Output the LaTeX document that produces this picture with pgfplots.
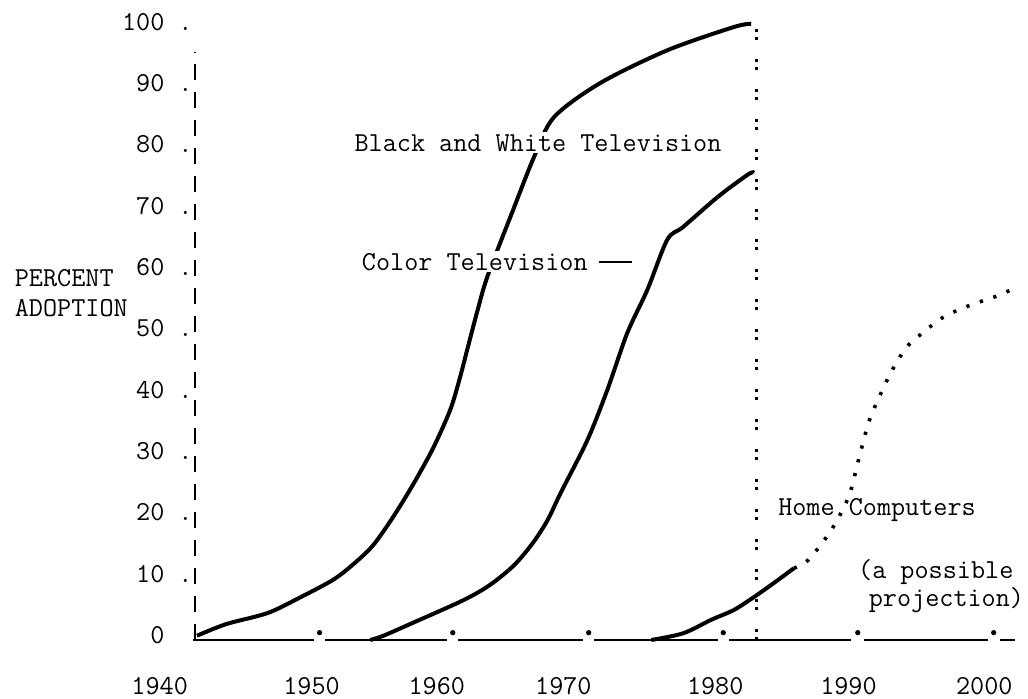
\documentclass[border=0pt]{standalone}
\usepackage{fontspec}
\usepackage{pgfplots}
\pgfplotsset{compat=1.18}
\tikzset{every node/.append style={font=\ttfamily\fontsize{13.7}{16}\selectfont}}

\begin{document}
\begin{tikzpicture}
\useasboundingbox (-96.5pt,-29pt) rectangle (417.5pt,320pt);
\begin{axis}[
    at={(0,0)}, anchor=south west,
    scale only axis, width=411pt, height=306.5pt,
    xmin=1940, xmax=2001.7, ymin=0, ymax=100,
    axis x line=bottom, axis y line=left,
    axis line style={draw=none}, major tick length=0pt,
    clip=false, unbounded coords=jump,
    xtick={1948.9,1958.3,1967.8,1979.2,1989.2,1999.4},
    xticklabels={1950,1960,1970,1980,1990,2000},
    xticklabel style={anchor=north, inner sep=0pt, yshift=-18.5pt},
    ytick={0,10,...,100},
    yticklabels={0\hphantom{00},10 .,20 .,30 .,40 .,50 .,60 .,70 .,80 .,90 .,100 .},
    yticklabel style={anchor=east, inner sep=0pt, yshift=2.5pt},
  ]
  % baseline with small breaks at the decade dots
  \addplot[black, line width=1pt] coordinates {
    (1940,0)(1949.1,0)(1949.5,nan)(1949.9,0)(1959.1,0)(1959.5,nan)(1959.9,0)
    (1969.3,0)(1969.7,nan)(1970.1,0)(1979.4,0)(1979.8,nan)(1980.2,0)
    (1989.4,0)(1989.9,nan)(1990.4,0)(1999.7,0)(2000.1,nan)(2000.6,0)(2001.7,0)};
  \addplot[only marks, mark=*, mark size=1.1pt, black] coordinates {
    (1949.5,1.2)(1959.5,1.2)(1969.7,1.2)(1979.8,1.2)(1989.9,1.2)(2000.1,1.2)};

  % 1982 marker line
  \addplot[black, line width=1.8pt, dash pattern=on 1.4pt off 2.6pt on 1.4pt off 9.6pt]
    coordinates {(1982.3,0)(1982.3,101)};

  % black and white television
  \addplot[black, line width=2pt, smooth, tension=0.5] coordinates {
    (1940.3,0.7)(1942.5,2.6)(1945.6,4.4)(1948.0,6.9)(1950.5,9.8)(1952.0,12.3)
    (1953.5,15.4)(1955.0,20.0)(1956.5,25.3)(1958.0,31.2)(1959.3,37.5)
    (1960.0,42.5)(1960.6,47.5)(1961.3,53.3)(1962.1,59.3)(1964.0,70.0)
    (1965.6,78.8)(1967.1,85.3)(1970.6,90.9)(1975.6,96.2)(1980.6,100.0)(1981.9,100.5)};

  % color television
  \addplot[black, line width=2pt, smooth, tension=0.5] coordinates {
    (1953.3,0)(1954.3,0.7)(1956.5,2.8)(1960.3,6.5)(1962.3,9.0)(1964.1,12.2)
    (1965.5,15.8)(1966.6,19.5)(1967.6,24.0)(1969.6,32.6)(1971.1,40.8)
    (1972.6,50.1)(1974.1,57.1)(1975.6,65.3)(1976.8,67.4)(1979.4,72.3)
    (1981.7,76.0)(1982.1,76.2)};

  % home computers, observed
  \addplot[black, line width=2pt, smooth, tension=0.5] coordinates {
    (1974.4,0)(1976.8,1.1)(1978.9,3.3)(1980.6,4.9)(1982.1,7.0)(1983.6,9.3)(1985.1,11.7)};
  % home computers, projection
  \addplot[black, line width=1.8pt, dash pattern=on 1.6pt off 5.5pt, smooth, tension=0.5] coordinates {
    (1985.1,11.7)(1986.2,13.1)(1987.9,17.9)(1989.2,23.3)(1989.9,28.9)(1990.7,35.4)
    (1991.5,39.6)(1992.4,43.7)(1993.4,47.3)(1994.1,48.9)(1996.2,52.5)
    (1998.2,54.5)(2000.2,56.0)(2001.7,57.4)};

  % dashed y axis
  \draw[black, line width=1pt, dash pattern=on 8pt off 6pt]
    (axis cs:1940.15,0) -- (axis cs:1940.15,96);

  \node[anchor=north, inner sep=0pt, yshift=-18.5pt] at (axis cs:1937.5,0) {1940};
  \node[fill=white, inner sep=1pt] at (axis cs:1965.9,81.1) {Black and White Television};
  \node[anchor=west, fill=white, inner sep=1pt] at (axis cs:1952.5,61.7)
    {Color Television\hspace{0.4em}\rule[0.25em]{1.2em}{1.4pt}};
  \node[anchor=west, inner sep=0pt] at (axis cs:1983.9,21.2) {Home Computers};
  \node[anchor=west, inner sep=0pt] at (axis cs:1989.9,11.1) {(a possible};
  \node[anchor=west, inner sep=0pt] at (axis cs:1990.7,6.5) {projection)};
  \node[anchor=west, inner sep=0pt] at (axis cs:1926.6,59.0) {PERCENT};
  \node[anchor=west, inner sep=0pt] at (axis cs:1926.6,54.2) {ADOPTION};
\end{axis}
\end{tikzpicture}
\end{document}
